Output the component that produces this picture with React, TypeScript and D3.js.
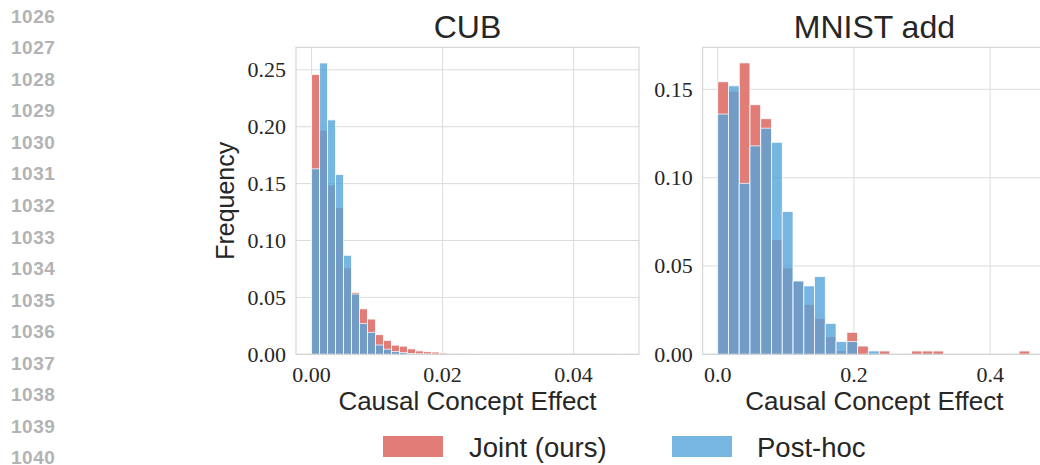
import React from "react";
import * as d3 from "d3";

// ---------- data ----------
const lineNumbers = ["1026","1027","1028","1029","1030","1031","1032","1033","1034","1035","1036","1037","1038","1039","1040"];

const cubBinWidth = 0.00122;
const cubJoint = [0.246, 0.197, 0.149, 0.129, 0.076, 0.0545, 0.040, 0.031, 0.0173, 0.0123, 0.0081, 0.0072, 0.0048, 0.003, 0.0023, 0.002, 0.0012, 0.0006, 0.0004, 0.0003, 0.0002, 0.0002, 0.0001, 0.0001, 0.0001, 0.0001, 0, 0, 0, 0, 0, 0, 0, 0, 0, 0, 0, 0, 0.0001];
const cubPosthoc = [0.163, 0.256, 0.206, 0.158, 0.087, 0.053, 0.027, 0.0193, 0.0082, 0.0045, 0.0024, 0.0015, 0.0007, 0.0005, 0.0003, 0.0002, 0.0001, 0, 0, 0, 0, 0, 0, 0, 0, 0, 0, 0, 0, 0, 0, 0, 0, 0, 0, 0, 0, 0, 0];

const mnistBinWidth = 0.0158;
const mnistJoint = [0.1543, 0.149, 0.165, 0.1413, 0.1334, 0.065, 0.049, 0.0415, 0.0283, 0.0204, 0.010, 0.002, 0.0125, 0.0047, 0, 0.0019, 0, 0, 0.0019, 0.0019, 0.0019, 0, 0, 0, 0, 0, 0, 0, 0.0019];
const mnistPosthoc = [0.136, 0.152, 0.0968, 0.118, 0.128, 0.120, 0.0808, 0.0415, 0.0387, 0.044, 0.0175, 0.0072, 0.0072, 0, 0.0019, 0, 0, 0, 0, 0, 0, 0, 0, 0, 0, 0, 0, 0, 0];

const cubXTicks = [0, 0.02, 0.04];
const cubYTicks = [0, 0.05, 0.1, 0.15, 0.2, 0.25];
const mnistXTicks = [0, 0.2, 0.4];
const mnistYTicks = [0, 0.05, 0.1, 0.15];

const seriesNames = ["Joint (ours)", "Post-hoc"];

// ---------- style ----------
const RED = "#E27C76";
const BLUE = "rgb(86,164,219)";
const BLUE_OPACITY = 0.8;
const GRID = "#dcdcdc";
const SPINE = "#cfcfcf";
const TEXT = "#262626";
const SANS = "'Liberation Sans', Arial, sans-serif";
const SERIF = "'Liberation Serif', 'Times New Roman', serif";

type PanelProps = {
  title: string;
  left: number;
  right: number;
  xDomain: [number, number];
  yMax: number;
  binWidth: number;
  joint: number[];
  posthoc: number[];
  xTicks: number[];
  yTicks: number[];
  xFmt: string;
  yLabel?: string;
};

const TOP = 47.3;
const BOTTOM = 354.3;

function Panel(p: PanelProps) {
  const x = d3.scaleLinear().domain(p.xDomain).range([p.left, p.right]);
  const y = d3.scaleLinear().domain([0, p.yMax]).range([BOTTOM, TOP]);
  const xf = d3.format(p.xFmt);
  const yf = d3.format(".2f");
  const cx = (p.left + p.right) / 2;
  const clipId = "clip-" + p.title.replace(/\s/g, "");
  const bars = (vals: number[]) =>
    vals.map((v, i) => ({ x0: i * p.binWidth, x1: (i + 1) * p.binWidth, v })).filter((b) => b.v > 0);
  return (
    <g>
      <defs>
        <clipPath id={clipId}>
          <rect x={p.left} y={TOP} width={p.right - p.left} height={BOTTOM - TOP} />
        </clipPath>
      </defs>
      {/* grid */}
      {p.yTicks.map((t) => (
        <line key={"gy" + t} x1={p.left} x2={p.right} y1={y(t)} y2={y(t)} stroke={GRID} strokeWidth={1} />
      ))}
      {p.xTicks.map((t) => (
        <line key={"gx" + t} x1={x(t)} x2={x(t)} y1={TOP} y2={BOTTOM} stroke={GRID} strokeWidth={1} />
      ))}
      <g clipPath={`url(#${clipId})`}>
        {bars(p.joint).map((b, i) => (
          <rect key={"j" + i} x={x(b.x0)} width={x(b.x1) - x(b.x0)} y={y(b.v)} height={BOTTOM - y(b.v)}
            fill={RED} stroke="#fff" strokeWidth={0.9} />
        ))}
        {bars(p.posthoc).map((b, i) => (
          <rect key={"p" + i} x={x(b.x0)} width={x(b.x1) - x(b.x0)} y={y(b.v)} height={BOTTOM - y(b.v)}
            fill={BLUE} fillOpacity={BLUE_OPACITY} stroke="#fff" strokeOpacity={0.8} strokeWidth={0.9} />
        ))}
      </g>
      {/* spines */}
      <rect x={p.left} y={TOP} width={p.right - p.left} height={BOTTOM - TOP} fill="none" stroke={SPINE} strokeWidth={1} />
      {/* tick labels */}
      {p.yTicks.map((t) => (
        <text key={"ty" + t} x={p.left - 10} y={y(t)} dy="0.33em" textAnchor="end"
          fontFamily={SERIF} fontSize={22} fill={TEXT}>{yf(t)}</text>
      ))}
      {p.xTicks.map((t) => (
        <text key={"tx" + t} x={x(t)} y={382} textAnchor="middle"
          fontFamily={SERIF} fontSize={22} fill={TEXT}>{xf(t)}</text>
      ))}
      <text x={cx} y={38} textAnchor="middle" fontFamily={SANS} fontSize={32} fill={TEXT}>{p.title}</text>
      <text x={cx} y={410} textAnchor="middle" fontFamily={SANS} fontSize={26} fill={TEXT}>Causal Concept Effect</text>
      {p.yLabel && (
        <text transform={`translate(234,${(TOP + BOTTOM) / 2}) rotate(-90)`} textAnchor="middle"
          fontFamily={SANS} fontSize={25} fill={TEXT}>{p.yLabel}</text>
      )}
    </g>
  );
}

export default function App() {
  return (
    <svg width={1040} height={465} style={{ position: "absolute", left: 0, top: 0, background: "#fff" }}>
      <rect width={1040} height={465} fill="#fff" />
      {lineNumbers.map((n, i) => (
        <text key={n} x={11} y={22.7 + i * 31.55} fontFamily={SANS} fontWeight="bold" fontSize={19}
          letterSpacing={0.5} fill="#b3b3b3">{n}</text>
      ))}
      <Panel title="CUB" left={296} right={639} xDomain={[-0.00238, 0.04998]} yMax={0.2698}
        binWidth={cubBinWidth} joint={cubJoint} posthoc={cubPosthoc}
        xTicks={cubXTicks} yTicks={cubYTicks} xFmt=".2f" yLabel="Frequency" />
      <Panel title="MNIST add" left={702.7} right={1046} xDomain={[-0.022, 0.482]} yMax={0.1738}
        binWidth={mnistBinWidth} joint={mnistJoint} posthoc={mnistPosthoc}
        xTicks={mnistXTicks} yTicks={mnistYTicks} xFmt=".1f" />
      {/* legend */}
      <rect x={383} y={436} width={60} height={21} fill={RED} />
      <text x={469} y={457} fontFamily={SANS} fontSize={27.5} fill={TEXT}>{seriesNames[0]}</text>
      <rect x={672} y={436} width={60} height={21} fill={BLUE} fillOpacity={BLUE_OPACITY} />
      <text x={757} y={457} fontFamily={SANS} fontSize={27.5} fill={TEXT}>{seriesNames[1]}</text>
    </svg>
  );
}
